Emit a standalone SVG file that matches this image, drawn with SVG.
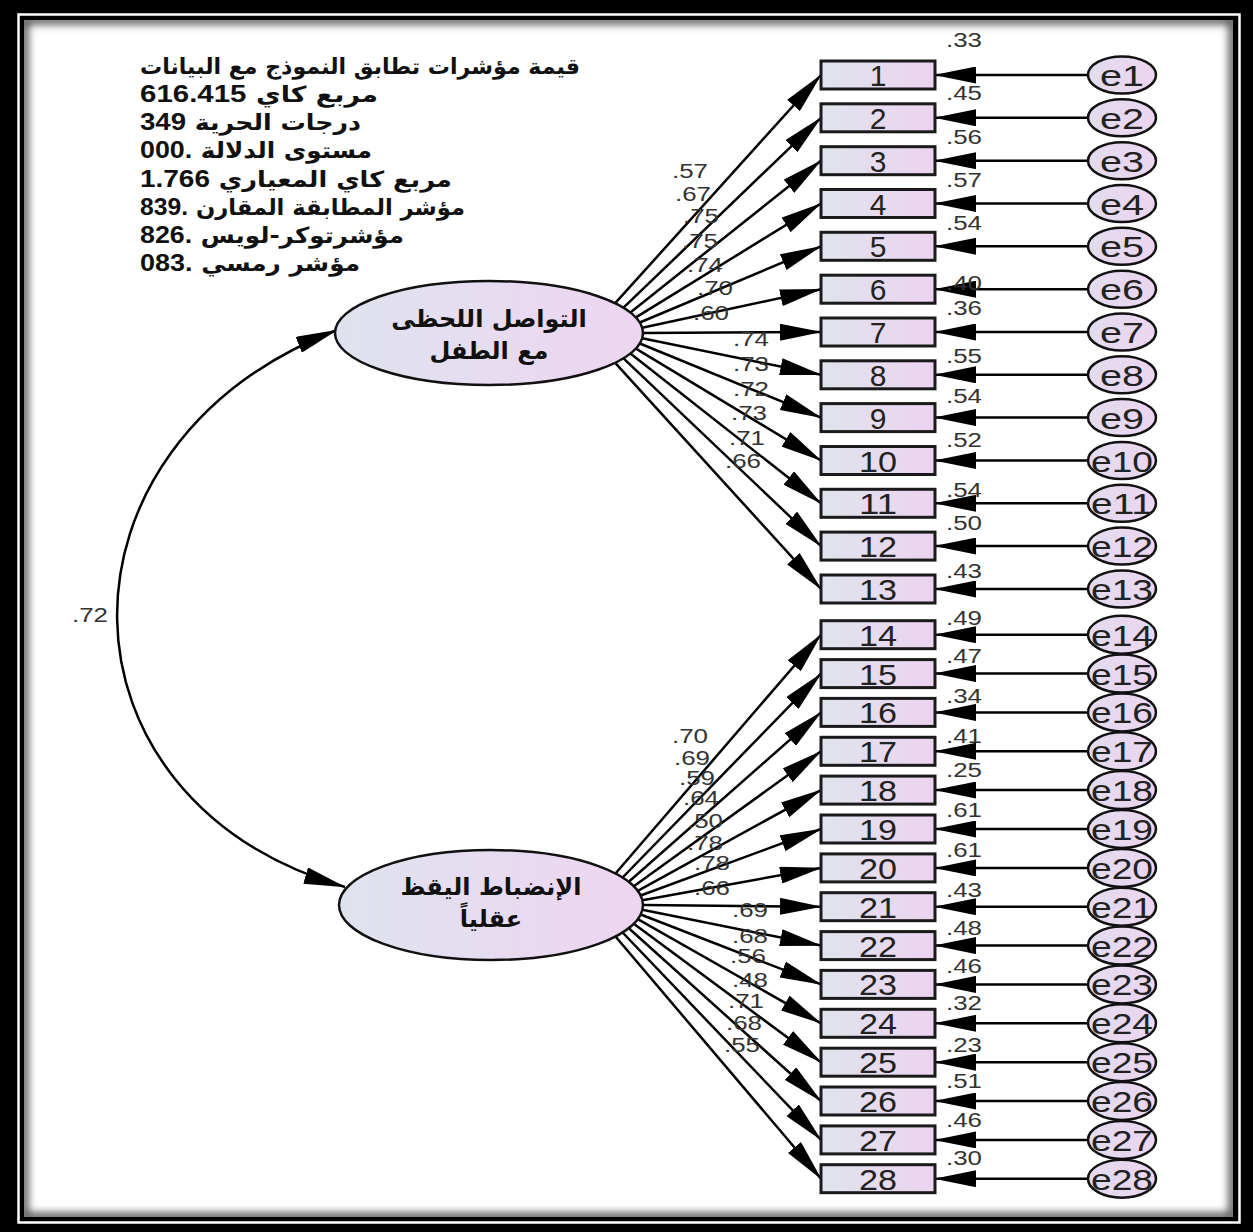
<svg xmlns="http://www.w3.org/2000/svg" width="1253" height="1232" viewBox="0 0 1253 1232">
<defs>
<linearGradient id="gBox" x1="0" y1="0" x2="1" y2="0"><stop offset="0" stop-color="#dfe4ec"/><stop offset="1" stop-color="#ecd3f0"/></linearGradient>
<linearGradient id="gLat" x1="0" y1="0" x2="1" y2="0"><stop offset="0" stop-color="#dfe3ee"/><stop offset="1" stop-color="#eed5f2"/></linearGradient>
<linearGradient id="gErr" x1="0" y1="0" x2="1" y2="0"><stop offset="0" stop-color="#e2dcee"/><stop offset="1" stop-color="#ecd5f0"/></linearGradient>
<marker id="ah" markerUnits="userSpaceOnUse" viewBox="0 0 42 17" markerWidth="42" markerHeight="17" refX="41" refY="8.5" orient="auto-start-reverse"><path d="M0,0 L42,8.5 L0,17 Z" fill="#000"/></marker>
<filter id="blur" x="-5%" y="-5%" width="110%" height="110%"><feGaussianBlur stdDeviation="4"/></filter>
<clipPath id="inner"><rect x="24" y="20" width="1209" height="1197"/></clipPath>
</defs>
<style>
.box{fill:url(#gBox);stroke:#1a1a1a;stroke-width:3}
.lat{fill:url(#gLat);stroke:#111;stroke-width:2.5}
.err{fill:url(#gErr);stroke:#111;stroke-width:2.5}
.num{font-family:"Liberation Sans",Arial,sans-serif;font-size:30px;fill:#222;text-anchor:middle}
.en{font-family:"Liberation Sans",Arial,sans-serif;font-size:30px;fill:#222;text-anchor:middle}
.lab{font-family:"Liberation Sans",Arial,sans-serif;font-size:20px;fill:#333}
.ln{fill:none;stroke:#000;stroke-width:2.5;marker-end:url(#ah)}
.arc{fill:none;stroke:#000;stroke-width:2.5;marker-start:url(#ah);marker-end:url(#ah)}
.fit{font-family:"DejaVu Sans",sans-serif;font-weight:bold;font-size:22px;fill:#111;direction:rtl;unicode-bidi:embed;text-anchor:end}
.fit .b{font-family:"Liberation Sans",Arial,sans-serif;font-weight:bold;font-size:24px}
.lt{font-family:"DejaVu Sans",sans-serif;font-weight:bold;font-size:24px;fill:#111;text-anchor:middle;direction:rtl;unicode-bidi:embed}
</style>
<g id="frame">
<rect x="0" y="0" width="1253" height="1232" fill="#000"/>
<rect x="18.5" y="14.5" width="1221" height="1208" fill="none" stroke="#fff" stroke-width="2.5"/>
<rect x="24" y="20" width="1209" height="1197" fill="#fff"/>
<g clip-path="url(#inner)"><rect x="24" y="20" width="1209" height="1197" fill="none" stroke="#444" stroke-width="8" filter="url(#blur)"/></g>
</g>
<g id="fit-indices">
<text class="fit" x="140" y="74" textLength="440" lengthAdjust="spacingAndGlyphs">قيمة مؤشرات تطابق النموذج مع البيانات</text>
<text class="fit" x="140" y="102" textLength="238" lengthAdjust="spacingAndGlyphs">مربع كاي <tspan class="b">616.415</tspan></text>
<text class="fit" x="140" y="130" textLength="221" lengthAdjust="spacingAndGlyphs">درجات الحرية <tspan class="b">349</tspan></text>
<text class="fit" x="140" y="158" textLength="232" lengthAdjust="spacingAndGlyphs">مستوى الدلالة <tspan class="b">.000</tspan></text>
<text class="fit" x="140" y="187" textLength="312" lengthAdjust="spacingAndGlyphs">مربع كاي المعياري  <tspan class="b">1.766</tspan></text>
<text class="fit" x="140" y="215" textLength="325" lengthAdjust="spacingAndGlyphs">مؤشر المطابقة المقارن <tspan class="b">.839</tspan></text>
<text class="fit" x="140" y="243" textLength="264" lengthAdjust="spacingAndGlyphs">مؤشرتوكر-لويس <tspan class="b">.826</tspan></text>
<text class="fit" x="140" y="271" textLength="220" lengthAdjust="spacingAndGlyphs">مؤشر رمسي <tspan class="b">.083</tspan></text>
</g>
<g id="connectors">
<path class="arc" d="M337,330 C40,445 45,800 345,887"/>
<path class="ln" d="M615.2,303.2 L821,75"/>
<path class="ln" d="M623.5,307.7 L821,117.8"/>
<path class="ln" d="M630.4,312.4 L821,160.7"/>
<path class="ln" d="M635.9,317.4 L821,203.5"/>
<path class="ln" d="M639.8,322.5 L821,246.3"/>
<path class="ln" d="M642.2,327.7 L821,289.2"/>
<path class="ln" d="M643,333 L821,332"/>
<path class="ln" d="M642.2,338.3 L821,374.8"/>
<path class="ln" d="M639.8,343.5 L821,417.6"/>
<path class="ln" d="M635.9,348.6 L821,460.5"/>
<path class="ln" d="M630.4,353.6 L821,503.3"/>
<path class="ln" d="M623.5,358.3 L821,546.1"/>
<path class="ln" d="M615.2,362.8 L821,589"/>
<path class="ln" d="M615.5,873.5 L821,634.7"/>
<path class="ln" d="M622.6,877.5 L821,673.6"/>
<path class="ln" d="M628.8,881.8 L821,712.4"/>
<path class="ln" d="M633.8,886.2 L821,751.3"/>
<path class="ln" d="M637.8,890.8 L821,790.1"/>
<path class="ln" d="M640.7,895.5 L821,829"/>
<path class="ln" d="M642.4,900.2 L821,867.9"/>
<path class="ln" d="M643,905 L821,906.7"/>
<path class="ln" d="M642.4,909.8 L821,945.6"/>
<path class="ln" d="M640.7,914.5 L821,984.4"/>
<path class="ln" d="M637.8,919.2 L821,1023.3"/>
<path class="ln" d="M633.8,923.8 L821,1062.2"/>
<path class="ln" d="M628.8,928.2 L821,1101"/>
<path class="ln" d="M622.6,932.5 L821,1139.9"/>
<path class="ln" d="M615.5,936.5 L821,1178.7"/>
<path class="ln" d="M1088,75 L935,75"/>
<path class="ln" d="M1088,117.8 L935,117.8"/>
<path class="ln" d="M1088,160.7 L935,160.7"/>
<path class="ln" d="M1088,203.5 L935,203.5"/>
<path class="ln" d="M1088,246.3 L935,246.3"/>
<path class="ln" d="M1088,289.2 L935,289.2"/>
<path class="ln" d="M1088,332 L935,332"/>
<path class="ln" d="M1088,374.8 L935,374.8"/>
<path class="ln" d="M1088,417.6 L935,417.6"/>
<path class="ln" d="M1088,460.5 L935,460.5"/>
<path class="ln" d="M1088,503.3 L935,503.3"/>
<path class="ln" d="M1088,546.1 L935,546.1"/>
<path class="ln" d="M1088,589 L935,589"/>
<path class="ln" d="M1088,634.7 L935,634.7"/>
<path class="ln" d="M1088,673.6 L935,673.6"/>
<path class="ln" d="M1088,712.4 L935,712.4"/>
<path class="ln" d="M1088,751.3 L935,751.3"/>
<path class="ln" d="M1088,790.1 L935,790.1"/>
<path class="ln" d="M1088,829 L935,829"/>
<path class="ln" d="M1088,867.9 L935,867.9"/>
<path class="ln" d="M1088,906.7 L935,906.7"/>
<path class="ln" d="M1088,945.6 L935,945.6"/>
<path class="ln" d="M1088,984.4 L935,984.4"/>
<path class="ln" d="M1088,1023.3 L935,1023.3"/>
<path class="ln" d="M1088,1062.2 L935,1062.2"/>
<path class="ln" d="M1088,1101 L935,1101"/>
<path class="ln" d="M1088,1139.9 L935,1139.9"/>
<path class="ln" d="M1088,1178.7 L935,1178.7"/>
</g>
<g id="F1"><ellipse class="lat" cx="489" cy="333" rx="154" ry="52"/>
<text class="lt" x="489" y="327">التواصل اللحظى</text>
<text class="lt" x="489" y="359">مع الطفل</text></g>
<g id="F2"><ellipse class="lat" cx="491" cy="905" rx="152" ry="55"/>
<text class="lt" x="491" y="895">الإنضباط اليقظ</text>
<text class="lt" x="491" y="927">عقلياً</text></g>
<g id="items">
<g id="item1"><rect class="box" x="821" y="61" width="114" height="28"/><text class="num" x="878" y="86">1</text></g>
<g id="item2"><rect class="box" x="821" y="103.8" width="114" height="28"/><text class="num" x="878" y="128.8">2</text></g>
<g id="item3"><rect class="box" x="821" y="146.7" width="114" height="28"/><text class="num" x="878" y="171.7">3</text></g>
<g id="item4"><rect class="box" x="821" y="189.5" width="114" height="28"/><text class="num" x="878" y="214.5">4</text></g>
<g id="item5"><rect class="box" x="821" y="232.3" width="114" height="28"/><text class="num" x="878" y="257.3">5</text></g>
<g id="item6"><rect class="box" x="821" y="275.2" width="114" height="28"/><text class="num" x="878" y="300.2">6</text></g>
<g id="item7"><rect class="box" x="821" y="318" width="114" height="28"/><text class="num" x="878" y="343">7</text></g>
<g id="item8"><rect class="box" x="821" y="360.8" width="114" height="28"/><text class="num" x="878" y="385.8">8</text></g>
<g id="item9"><rect class="box" x="821" y="403.6" width="114" height="28"/><text class="num" x="878" y="428.6">9</text></g>
<g id="item10"><rect class="box" x="821" y="446.5" width="114" height="28"/><text class="num" x="878" y="471.5" textLength="38" lengthAdjust="spacingAndGlyphs">10</text></g>
<g id="item11"><rect class="box" x="821" y="489.3" width="114" height="28"/><text class="num" x="878" y="514.3" textLength="38" lengthAdjust="spacingAndGlyphs">11</text></g>
<g id="item12"><rect class="box" x="821" y="532.1" width="114" height="28"/><text class="num" x="878" y="557.1" textLength="38" lengthAdjust="spacingAndGlyphs">12</text></g>
<g id="item13"><rect class="box" x="821" y="575" width="114" height="28"/><text class="num" x="878" y="600" textLength="38" lengthAdjust="spacingAndGlyphs">13</text></g>
<g id="item14"><rect class="box" x="821" y="620.7" width="114" height="28"/><text class="num" x="878" y="645.7" textLength="38" lengthAdjust="spacingAndGlyphs">14</text></g>
<g id="item15"><rect class="box" x="821" y="659.6" width="114" height="28"/><text class="num" x="878" y="684.6" textLength="38" lengthAdjust="spacingAndGlyphs">15</text></g>
<g id="item16"><rect class="box" x="821" y="698.4" width="114" height="28"/><text class="num" x="878" y="723.4" textLength="38" lengthAdjust="spacingAndGlyphs">16</text></g>
<g id="item17"><rect class="box" x="821" y="737.3" width="114" height="28"/><text class="num" x="878" y="762.3" textLength="38" lengthAdjust="spacingAndGlyphs">17</text></g>
<g id="item18"><rect class="box" x="821" y="776.1" width="114" height="28"/><text class="num" x="878" y="801.1" textLength="38" lengthAdjust="spacingAndGlyphs">18</text></g>
<g id="item19"><rect class="box" x="821" y="815" width="114" height="28"/><text class="num" x="878" y="840" textLength="38" lengthAdjust="spacingAndGlyphs">19</text></g>
<g id="item20"><rect class="box" x="821" y="853.9" width="114" height="28"/><text class="num" x="878" y="878.9" textLength="38" lengthAdjust="spacingAndGlyphs">20</text></g>
<g id="item21"><rect class="box" x="821" y="892.7" width="114" height="28"/><text class="num" x="878" y="917.7" textLength="38" lengthAdjust="spacingAndGlyphs">21</text></g>
<g id="item22"><rect class="box" x="821" y="931.6" width="114" height="28"/><text class="num" x="878" y="956.6" textLength="38" lengthAdjust="spacingAndGlyphs">22</text></g>
<g id="item23"><rect class="box" x="821" y="970.4" width="114" height="28"/><text class="num" x="878" y="995.4" textLength="38" lengthAdjust="spacingAndGlyphs">23</text></g>
<g id="item24"><rect class="box" x="821" y="1009.3" width="114" height="28"/><text class="num" x="878" y="1034.3" textLength="38" lengthAdjust="spacingAndGlyphs">24</text></g>
<g id="item25"><rect class="box" x="821" y="1048.2" width="114" height="28"/><text class="num" x="878" y="1073.2" textLength="38" lengthAdjust="spacingAndGlyphs">25</text></g>
<g id="item26"><rect class="box" x="821" y="1087" width="114" height="28"/><text class="num" x="878" y="1112" textLength="38" lengthAdjust="spacingAndGlyphs">26</text></g>
<g id="item27"><rect class="box" x="821" y="1125.9" width="114" height="28"/><text class="num" x="878" y="1150.9" textLength="38" lengthAdjust="spacingAndGlyphs">27</text></g>
<g id="item28"><rect class="box" x="821" y="1164.7" width="114" height="28"/><text class="num" x="878" y="1189.7" textLength="38" lengthAdjust="spacingAndGlyphs">28</text></g>
</g>
<g id="errors">
<g id="e1"><ellipse class="err" cx="1122" cy="75" rx="34" ry="18.5"/><text class="en" x="1122" y="86" textLength="44" lengthAdjust="spacingAndGlyphs">e1</text></g>
<g id="e2"><ellipse class="err" cx="1122" cy="117.8" rx="34" ry="18.5"/><text class="en" x="1122" y="128.8" textLength="44" lengthAdjust="spacingAndGlyphs">e2</text></g>
<g id="e3"><ellipse class="err" cx="1122" cy="160.7" rx="34" ry="18.5"/><text class="en" x="1122" y="171.7" textLength="44" lengthAdjust="spacingAndGlyphs">e3</text></g>
<g id="e4"><ellipse class="err" cx="1122" cy="203.5" rx="34" ry="18.5"/><text class="en" x="1122" y="214.5" textLength="44" lengthAdjust="spacingAndGlyphs">e4</text></g>
<g id="e5"><ellipse class="err" cx="1122" cy="246.3" rx="34" ry="18.5"/><text class="en" x="1122" y="257.3" textLength="44" lengthAdjust="spacingAndGlyphs">e5</text></g>
<g id="e6"><ellipse class="err" cx="1122" cy="289.2" rx="34" ry="18.5"/><text class="en" x="1122" y="300.2" textLength="44" lengthAdjust="spacingAndGlyphs">e6</text></g>
<g id="e7"><ellipse class="err" cx="1122" cy="332" rx="34" ry="18.5"/><text class="en" x="1122" y="343" textLength="44" lengthAdjust="spacingAndGlyphs">e7</text></g>
<g id="e8"><ellipse class="err" cx="1122" cy="374.8" rx="34" ry="18.5"/><text class="en" x="1122" y="385.8" textLength="44" lengthAdjust="spacingAndGlyphs">e8</text></g>
<g id="e9"><ellipse class="err" cx="1122" cy="417.6" rx="34" ry="18.5"/><text class="en" x="1122" y="428.6" textLength="44" lengthAdjust="spacingAndGlyphs">e9</text></g>
<g id="e10"><ellipse class="err" cx="1122" cy="460.5" rx="34" ry="18.5"/><text class="en" x="1122" y="471.5" textLength="62" lengthAdjust="spacingAndGlyphs">e10</text></g>
<g id="e11"><ellipse class="err" cx="1122" cy="503.3" rx="34" ry="18.5"/><text class="en" x="1122" y="514.3" textLength="62" lengthAdjust="spacingAndGlyphs">e11</text></g>
<g id="e12"><ellipse class="err" cx="1122" cy="546.1" rx="34" ry="18.5"/><text class="en" x="1122" y="557.1" textLength="62" lengthAdjust="spacingAndGlyphs">e12</text></g>
<g id="e13"><ellipse class="err" cx="1122" cy="589" rx="34" ry="18.5"/><text class="en" x="1122" y="600" textLength="62" lengthAdjust="spacingAndGlyphs">e13</text></g>
<g id="e14"><ellipse class="err" cx="1122" cy="634.7" rx="34" ry="19"/><text class="en" x="1122" y="645.7" textLength="62" lengthAdjust="spacingAndGlyphs">e14</text></g>
<g id="e15"><ellipse class="err" cx="1122" cy="673.6" rx="34" ry="19"/><text class="en" x="1122" y="684.6" textLength="62" lengthAdjust="spacingAndGlyphs">e15</text></g>
<g id="e16"><ellipse class="err" cx="1122" cy="712.4" rx="34" ry="19"/><text class="en" x="1122" y="723.4" textLength="62" lengthAdjust="spacingAndGlyphs">e16</text></g>
<g id="e17"><ellipse class="err" cx="1122" cy="751.3" rx="34" ry="19"/><text class="en" x="1122" y="762.3" textLength="62" lengthAdjust="spacingAndGlyphs">e17</text></g>
<g id="e18"><ellipse class="err" cx="1122" cy="790.1" rx="34" ry="19"/><text class="en" x="1122" y="801.1" textLength="62" lengthAdjust="spacingAndGlyphs">e18</text></g>
<g id="e19"><ellipse class="err" cx="1122" cy="829" rx="34" ry="19"/><text class="en" x="1122" y="840" textLength="62" lengthAdjust="spacingAndGlyphs">e19</text></g>
<g id="e20"><ellipse class="err" cx="1122" cy="867.9" rx="34" ry="19"/><text class="en" x="1122" y="878.9" textLength="62" lengthAdjust="spacingAndGlyphs">e20</text></g>
<g id="e21"><ellipse class="err" cx="1122" cy="906.7" rx="34" ry="19"/><text class="en" x="1122" y="917.7" textLength="62" lengthAdjust="spacingAndGlyphs">e21</text></g>
<g id="e22"><ellipse class="err" cx="1122" cy="945.6" rx="34" ry="19"/><text class="en" x="1122" y="956.6" textLength="62" lengthAdjust="spacingAndGlyphs">e22</text></g>
<g id="e23"><ellipse class="err" cx="1122" cy="984.4" rx="34" ry="19"/><text class="en" x="1122" y="995.4" textLength="62" lengthAdjust="spacingAndGlyphs">e23</text></g>
<g id="e24"><ellipse class="err" cx="1122" cy="1023.3" rx="34" ry="19"/><text class="en" x="1122" y="1034.3" textLength="62" lengthAdjust="spacingAndGlyphs">e24</text></g>
<g id="e25"><ellipse class="err" cx="1122" cy="1062.2" rx="34" ry="19"/><text class="en" x="1122" y="1073.2" textLength="62" lengthAdjust="spacingAndGlyphs">e25</text></g>
<g id="e26"><ellipse class="err" cx="1122" cy="1101" rx="34" ry="19"/><text class="en" x="1122" y="1112" textLength="62" lengthAdjust="spacingAndGlyphs">e26</text></g>
<g id="e27"><ellipse class="err" cx="1122" cy="1139.9" rx="34" ry="19"/><text class="en" x="1122" y="1150.9" textLength="62" lengthAdjust="spacingAndGlyphs">e27</text></g>
<g id="e28"><ellipse class="err" cx="1122" cy="1178.7" rx="34" ry="19"/><text class="en" x="1122" y="1189.7" textLength="62" lengthAdjust="spacingAndGlyphs">e28</text></g>
</g>
<g id="labels">
<text class="lab" x="72" y="622" textLength="36" lengthAdjust="spacingAndGlyphs">.72</text>
<text class="lab" x="672" y="178" textLength="36" lengthAdjust="spacingAndGlyphs">.57</text>
<text class="lab" x="675" y="201" textLength="36" lengthAdjust="spacingAndGlyphs">.67</text>
<text class="lab" x="683" y="223" textLength="36" lengthAdjust="spacingAndGlyphs">.75</text>
<text class="lab" x="682" y="248" textLength="36" lengthAdjust="spacingAndGlyphs">.75</text>
<text class="lab" x="687" y="272" textLength="36" lengthAdjust="spacingAndGlyphs">.74</text>
<text class="lab" x="697" y="295" textLength="36" lengthAdjust="spacingAndGlyphs">.70</text>
<text class="lab" x="693" y="320" textLength="36" lengthAdjust="spacingAndGlyphs">.60</text>
<text class="lab" x="733" y="346" textLength="36" lengthAdjust="spacingAndGlyphs">.74</text>
<text class="lab" x="733" y="371" textLength="36" lengthAdjust="spacingAndGlyphs">.73</text>
<text class="lab" x="733" y="396" textLength="36" lengthAdjust="spacingAndGlyphs">.72</text>
<text class="lab" x="731" y="420" textLength="36" lengthAdjust="spacingAndGlyphs">.73</text>
<text class="lab" x="729" y="445" textLength="36" lengthAdjust="spacingAndGlyphs">.71</text>
<text class="lab" x="725" y="468" textLength="36" lengthAdjust="spacingAndGlyphs">.66</text>
<text class="lab" x="672" y="743" textLength="36" lengthAdjust="spacingAndGlyphs">.70</text>
<text class="lab" x="674" y="765" textLength="36" lengthAdjust="spacingAndGlyphs">.69</text>
<text class="lab" x="679" y="785" textLength="36" lengthAdjust="spacingAndGlyphs">.59</text>
<text class="lab" x="683" y="805" textLength="36" lengthAdjust="spacingAndGlyphs">.64</text>
<text class="lab" x="687" y="828" textLength="36" lengthAdjust="spacingAndGlyphs">.50</text>
<text class="lab" x="687" y="850" textLength="36" lengthAdjust="spacingAndGlyphs">.78</text>
<text class="lab" x="694" y="870" textLength="36" lengthAdjust="spacingAndGlyphs">.78</text>
<text class="lab" x="694" y="895" textLength="36" lengthAdjust="spacingAndGlyphs">.66</text>
<text class="lab" x="732" y="917" textLength="36" lengthAdjust="spacingAndGlyphs">.69</text>
<text class="lab" x="732" y="943" textLength="36" lengthAdjust="spacingAndGlyphs">.68</text>
<text class="lab" x="730" y="963" textLength="36" lengthAdjust="spacingAndGlyphs">.56</text>
<text class="lab" x="732" y="987" textLength="36" lengthAdjust="spacingAndGlyphs">.48</text>
<text class="lab" x="728" y="1008" textLength="36" lengthAdjust="spacingAndGlyphs">.71</text>
<text class="lab" x="726" y="1030" textLength="36" lengthAdjust="spacingAndGlyphs">.68</text>
<text class="lab" x="724" y="1052" textLength="36" lengthAdjust="spacingAndGlyphs">.55</text>
<text class="lab" x="946" y="47" textLength="36" lengthAdjust="spacingAndGlyphs">.33</text>
<text class="lab" x="946" y="100" textLength="36" lengthAdjust="spacingAndGlyphs">.45</text>
<text class="lab" x="946" y="144" textLength="36" lengthAdjust="spacingAndGlyphs">.56</text>
<text class="lab" x="946" y="187" textLength="36" lengthAdjust="spacingAndGlyphs">.57</text>
<text class="lab" x="946" y="230" textLength="36" lengthAdjust="spacingAndGlyphs">.54</text>
<text class="lab" x="946" y="290" textLength="36" lengthAdjust="spacingAndGlyphs">.40</text>
<text class="lab" x="946" y="315" textLength="36" lengthAdjust="spacingAndGlyphs">.36</text>
<text class="lab" x="946" y="363" textLength="36" lengthAdjust="spacingAndGlyphs">.55</text>
<text class="lab" x="946" y="403" textLength="36" lengthAdjust="spacingAndGlyphs">.54</text>
<text class="lab" x="946" y="447" textLength="36" lengthAdjust="spacingAndGlyphs">.52</text>
<text class="lab" x="946" y="497" textLength="36" lengthAdjust="spacingAndGlyphs">.54</text>
<text class="lab" x="946" y="530" textLength="36" lengthAdjust="spacingAndGlyphs">.50</text>
<text class="lab" x="946" y="578" textLength="36" lengthAdjust="spacingAndGlyphs">.43</text>
<text class="lab" x="946" y="625" textLength="36" lengthAdjust="spacingAndGlyphs">.49</text>
<text class="lab" x="946" y="663" textLength="36" lengthAdjust="spacingAndGlyphs">.47</text>
<text class="lab" x="946" y="703" textLength="36" lengthAdjust="spacingAndGlyphs">.34</text>
<text class="lab" x="946" y="743" textLength="36" lengthAdjust="spacingAndGlyphs">.41</text>
<text class="lab" x="946" y="777" textLength="36" lengthAdjust="spacingAndGlyphs">.25</text>
<text class="lab" x="946" y="817" textLength="36" lengthAdjust="spacingAndGlyphs">.61</text>
<text class="lab" x="946" y="857" textLength="36" lengthAdjust="spacingAndGlyphs">.61</text>
<text class="lab" x="946" y="897" textLength="36" lengthAdjust="spacingAndGlyphs">.43</text>
<text class="lab" x="946" y="935" textLength="36" lengthAdjust="spacingAndGlyphs">.48</text>
<text class="lab" x="946" y="973" textLength="36" lengthAdjust="spacingAndGlyphs">.46</text>
<text class="lab" x="946" y="1010" textLength="36" lengthAdjust="spacingAndGlyphs">.32</text>
<text class="lab" x="946" y="1052" textLength="36" lengthAdjust="spacingAndGlyphs">.23</text>
<text class="lab" x="946" y="1088" textLength="36" lengthAdjust="spacingAndGlyphs">.51</text>
<text class="lab" x="946" y="1127" textLength="36" lengthAdjust="spacingAndGlyphs">.46</text>
<text class="lab" x="946" y="1165" textLength="36" lengthAdjust="spacingAndGlyphs">.30</text>
</g>
</svg>
